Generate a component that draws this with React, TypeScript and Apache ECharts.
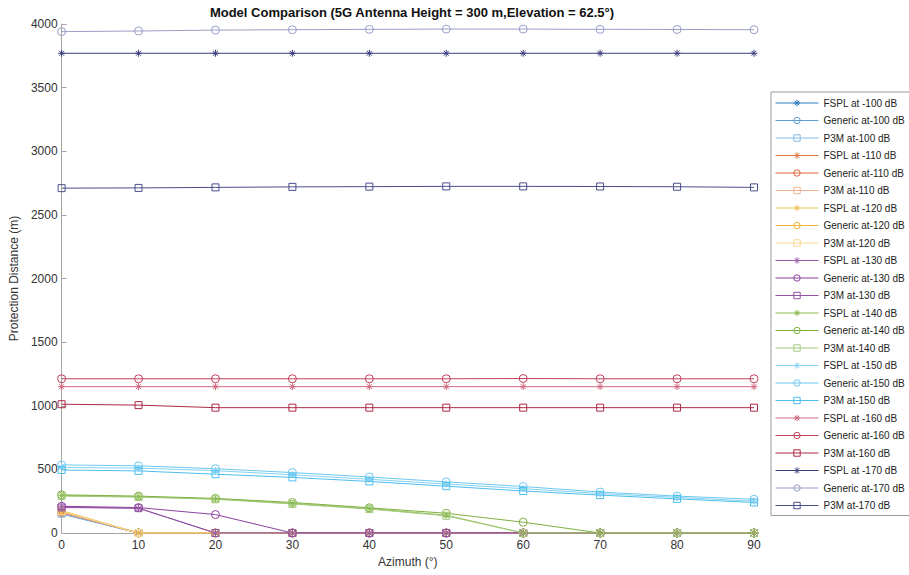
import React, { useEffect, useRef } from "react";
import * as echarts from "echarts";

const azimuth = [0, 10, 20, 30, 40, 50, 60, 70, 80, 90];

const fspl100 = [150, 0, 0, 0, 0, 0, 0, 0, 0, 0];
const generic100 = [158, 0, 0, 0, 0, 0, 0, 0, 0, 0];
const p3m100 = [152, 0, 0, 0, 0, 0, 0, 0, 0, 0];
const fspl110 = [160, 0, 0, 0, 0, 0, 0, 0, 0, 0];
const generic110 = [166, 0, 0, 0, 0, 0, 0, 0, 0, 0];
const p3m110 = [162, 0, 0, 0, 0, 0, 0, 0, 0, 0];
const fspl120 = [170, 0, 0, 0, 0, 0, 0, 0, 0, 0];
const generic120 = [176, 0, 0, 0, 0, 0, 0, 0, 0, 0];
const p3m120 = [172, 0, 0, 0, 0, 0, 0, 0, 0, 0];
const fspl130 = [205, 195, 0, 0, 0, 0, 0, 0, 0, 0];
const generic130 = [210, 200, 145, 0, 0, 0, 0, 0, 0, 0];
const p3m130 = [200, 195, 0, 0, 0, 0, 0, 0, 0, 0];
const fspl140 = [295, 285, 268, 232, 192, 140, 0, 0, 0, 0];
const generic140 = [300, 290, 272, 240, 198, 155, 85, 0, 0, 0];
const p3m140 = [290, 282, 265, 228, 188, 135, 0, 0, 0, 0];
const fspl150 = [515, 510, 490, 458, 422, 385, 348, 310, 280, 250];
const generic150 = [535, 528, 505, 475, 440, 402, 365, 322, 290, 265];
const p3m150 = [495, 488, 462, 437, 405, 368, 330, 298, 268, 240];
const fspl160 = [1150, 1150, 1150, 1150, 1150, 1150, 1150, 1150, 1150, 1150];
const generic160 = [1212, 1212, 1212, 1212, 1212, 1212, 1214, 1212, 1212, 1212];
const p3m160 = [1012, 1005, 985, 985, 985, 985, 985, 985, 985, 985];
const fspl170 = [3770, 3770, 3770, 3770, 3770, 3770, 3770, 3770, 3770, 3770];
const generic170 = [3940, 3945, 3952, 3955, 3958, 3960, 3960, 3958, 3957, 3955];
const p3m170 = [2710, 2712, 2716, 2720, 2722, 2724, 2724, 2723, 2721, 2716];

const seriesNames = [
  "FSPL at -100 dB", "Generic at-100 dB", "P3M at-100 dB",
  "FSPL at -110 dB", "Generic at-110 dB", "P3M at-110 dB",
  "FSPL at -120 dB", "Generic at-120 dB", "P3M at-120 dB",
  "FSPL at -130 dB", "Generic at-130 dB", "P3M at-130 dB",
  "FSPL at -140 dB", "Generic at-140 dB", "P3M at-140 dB",
  "FSPL at -150 dB", "Generic at-150 dB", "P3M at-150 dB",
  "FSPL at -160 dB", "Generic at-160 dB", "P3M at-160 dB",
  "FSPL at -170 dB", "Generic at-170 dB", "P3M at-170 dB",
];

const seriesValues = [
  fspl100, generic100, p3m100,
  fspl110, generic110, p3m110,
  fspl120, generic120, p3m120,
  fspl130, generic130, p3m130,
  fspl140, generic140, p3m140,
  fspl150, generic150, p3m150,
  fspl160, generic160, p3m160,
  fspl170, generic170, p3m170,
];

const seriesColors = [
  "#2a7cbe", "#5b9fd6", "#88b9e2",
  "#e07444", "#dc6634", "#f0b394",
  "#f2c65a", "#eeb434", "#f5d794",
  "#9a5aa8", "#8c42a0", "#9352a3",
  "#8cbd55", "#7fb040", "#a3ca7c",
  "#86d2f2", "#6cc8f0", "#4dbeee",
  "#d26a80", "#c23f5b", "#ad2a46",
  "#3b3f80", "#9a9dc8", "#4b4f8c",
];

const STAR = "path://M5,0L5,10M0,5L10,5M1.5,1.5L8.5,8.5M1.5,8.5L8.5,1.5";
const CIRCLE = "path://M10,5A5,5,0,1,1,0,5A5,5,0,1,1,10,5Z";
const SQUARE = "path://M0,0L10,0L10,10L0,10Z";
const markers = [STAR, CIRCLE, SQUARE];
const markerSizes = [7, 8, 7];

export default function App() {
  const ref = useRef<HTMLDivElement>(null);

  useEffect(() => {
    if (!ref.current) return;
    const chart = echarts.init(ref.current, undefined, { renderer: "svg" });
    const font = "'Liberation Sans', Arial, Helvetica, sans-serif";

    const series = seriesNames.map((name, i) => ({
      name,
      type: "line",
      data: azimuth.map((a, j) => [a, seriesValues[i][j]]),
      symbol: markers[i % 3],
      symbolSize: markerSizes[i % 3],
      showSymbol: true,
      lineStyle: { color: seriesColors[i], width: 1 },
      itemStyle: { color: "transparent", borderColor: seriesColors[i], borderWidth: 1 },
      emphasis: { disabled: true },
    }));

    chart.setOption({
      animation: false,
      textStyle: { fontFamily: font },
      title: {
        text: "Model Comparison (5G Antenna Height = 300 m,Elevation = 62.5°)",
        left: 407,
        textAlign: "center",
        top: 1,
        textStyle: { fontSize: 13, fontWeight: "bold", color: "#111", fontFamily: font },
      },
      grid: { left: 61, right: 155, top: 24, bottom: 42, containLabel: false },
      legend: {
        orient: "vertical",
        left: 771,
        top: 92,
        padding: [5, 40, 4, 4],
        itemWidth: 43,
        itemHeight: 8,
        itemGap: 5.5,
        borderColor: "#9a9a9a",
        borderWidth: 1,
        backgroundColor: "#fff",
        itemStyle: { borderWidth: 1 },
        lineStyle: { width: 1 },
        textStyle: { fontSize: 10, color: "#222", fontFamily: font, lineHeight: 12 },
        data: seriesNames,
      },
      xAxis: {
        type: "value",
        min: 0,
        max: 90,
        interval: 10,
        name: "Azimuth (°)",
        nameLocation: "middle",
        nameGap: 22,
        nameTextStyle: { fontSize: 12, color: "#333", fontFamily: font },
        axisLine: { lineStyle: { color: "#a6a6a6", width: 1 } },
        axisTick: { inside: true, length: 5, lineStyle: { color: "#a6a6a6" } },
        axisLabel: { fontSize: 12, color: "#333", margin: 6, formatter: (v: number) => String(v) },
        splitLine: { show: false },
      },
      yAxis: {
        type: "value",
        min: 0,
        max: 4000,
        interval: 500,
        name: "Protection Distance (m)",
        nameLocation: "middle",
        nameGap: 33,
        nameTextStyle: { fontSize: 12, color: "#333", fontFamily: font },
        axisLine: { show: true, lineStyle: { color: "#a6a6a6", width: 1 } },
        axisTick: { show: true, inside: true, length: 5, lineStyle: { color: "#a6a6a6" } },
        axisLabel: { fontSize: 12, color: "#333", margin: 4, formatter: (v: number) => String(v) },
        splitLine: { show: false },
      },
      series,
    });

    return () => chart.dispose();
  }, []);

  return (
    <div
      ref={ref}
      style={{ position: "fixed", left: 0, top: 0, width: 909, height: 575, background: "#fff" }}
    />
  );
}
